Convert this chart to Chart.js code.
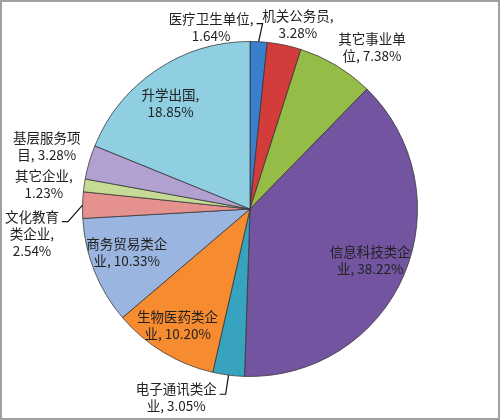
<!DOCTYPE html>
<html>
<head>
<meta charset="utf-8">
<script src="https://cdn.jsdelivr.net/npm/chart.js@4"></script>
<style>
  html, body { margin: 0; padding: 0; background: #fff; }
  #wrap { width: 500px; height: 420px; }
</style>
</head>
<body>
<div id="wrap"><canvas id="pie" width="500" height="420"></canvas></div>
<script>
// data (percent of graduates)
const categories = ['医疗卫生单位', '机关公务员', '其它事业单位', '信息科技类企业', '电子通讯类企业',
    '生物医药类企业', '商务贸易类企业', '文化教育类企业', '其它企业', '基层服务项目', '升学出国'];
const shares = [1.64, 3.28, 7.38, 38.22, 3.05, 10.20, 10.33, 2.54, 1.23, 3.28, 18.85];

const colors = ['#3a7fcc', '#d23c3b', '#96bc48', '#7354a0', '#38a3be', '#f68b30',
    '#9ab6e0', '#e5918f', '#c6dc96', '#b2a1d0', '#8fcfe1'];

// label placement: radius factor, angle shift (deg), chars per line, leader line
const labelRadius = [1.11, 1.14, 1.21, 0.78, 1.21, 0.82, 0.78, 1.31, 1.24, 1.27, 0.79];
const labelShift = [-15, 2.7, 6, 0, 14, 0.6, 2.5, -7.8, -1.2, 1, -3];
const wrapChars = [6, 5, 5, 6, 6, 6, 6, 4, 4, 5, 4];
const leader = [true, false, false, false, true, false, false, true, false, false, false];

function wrapLabel(name, pct, n) {
    const chars = Array.from(name);
    let lines = [];
    for (let i = 0; i < chars.length; i += n) {
        lines.push(chars.slice(i, i + n).join(''));
    }
    const last = lines.length - 1;
    lines[last] += ',';
    if (Array.from(lines[last]).length - 1 + 3 <= n) {
        lines[last] += ' ' + pct;
    } else {
        lines.push(pct);
    }
    return lines;
}

const labelPlugin = {
    id: 'pieLabels',
    beforeDraw(chart) {
        const ctx = chart.ctx;
        ctx.save();
        ctx.fillStyle = '#fff';
        ctx.fillRect(0, 0, chart.width, chart.height);
        ctx.restore();
    },
    afterDraw(chart) {
        const ctx = chart.ctx;
        const arcs = chart.getDatasetMeta(0).data;
        ctx.save();
        ctx.font = '13.5px "Noto Sans CJK SC", "Noto Sans", sans-serif';
        ctx.fillStyle = '#222';
        ctx.textAlign = 'center';
        ctx.textBaseline = 'middle';
        const lh = 17;
        arcs.forEach(function (arc, i) {
            const mid = (arc.startAngle + arc.endAngle) / 2;
            const a = mid + labelShift[i] * Math.PI / 180;
            const r = arc.outerRadius * labelRadius[i];
            const cx = arc.x + Math.cos(a) * r;
            const cy = arc.y + Math.sin(a) * r;
            const lines = wrapLabel(categories[i], shares[i].toFixed(2) + '%', wrapChars[i]);
            const top = cy - (lines.length - 1) * lh / 2;
            lines.forEach(function (t, k) {
                ctx.fillText(t, cx, top + k * lh);
            });
            if (leader[i]) {
                const w = ctx.measureText(lines[0]).width;
                const sx = cx + w / 2 + 3;
                const sy = top + 5;
                const ex = arc.x + Math.cos(mid) * arc.outerRadius;
                const ey = arc.y + Math.sin(mid) * arc.outerRadius;
                ctx.strokeStyle = '#111';
                ctx.lineWidth = 1.2;
                ctx.beginPath();
                ctx.moveTo(sx, sy);
                ctx.lineTo(sx + 6, sy);
                ctx.lineTo(ex, ey);
                ctx.stroke();
            }
        });
        // picture frame
        ctx.strokeStyle = '#a0a0a0';
        ctx.lineWidth = 2;
        ctx.strokeRect(1, 1, chart.width - 2, chart.height - 2);
        ctx.restore();
    }
};

const config = {
    type: 'pie',
    data: {
        labels: categories,
        datasets: [{
            data: shares,
            backgroundColor: colors,
            borderColor: 'rgba(50,50,50,0.75)',
            borderWidth: 1
        }]
    },
    options: {
        responsive: false,
        animation: false,
        layout: { padding: { top: 41, bottom: 43, left: 0, right: 0 } },
        plugins: {
            legend: { display: false },
            tooltip: { enabled: false }
        }
    },
    plugins: [labelPlugin]
};

const myChart = new Chart(document.getElementById('pie'), config);
</script>
</body>
</html>
